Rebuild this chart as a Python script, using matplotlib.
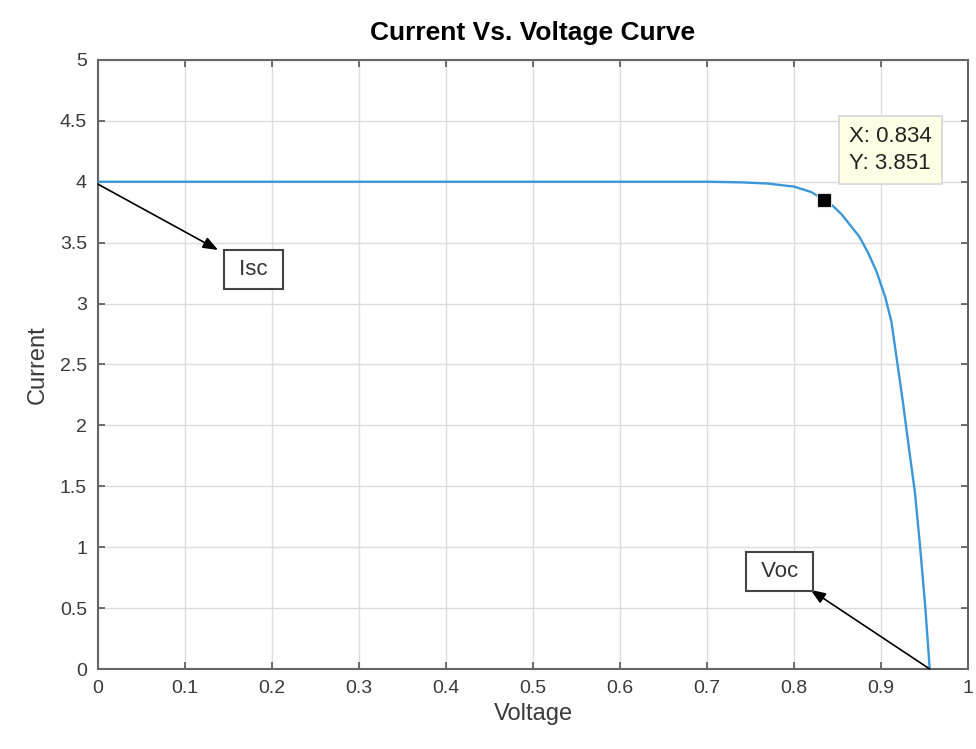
import matplotlib
matplotlib.use("Agg")
from matplotlib import pyplot as plt

plt.rcParams["font.family"] = ["Liberation Sans", "DejaVu Sans"]

# I-V curve
voltage = [0.0, 0.1, 0.2, 0.3, 0.4, 0.5, 0.6, 0.7, 0.74, 0.77, 0.80, 0.82, 0.834,
           0.845, 0.855, 0.865, 0.875, 0.885, 0.895, 0.905, 0.912, 0.918, 0.925,
           0.932, 0.939, 0.945, 0.951, 0.956]
current = [4.0, 4.0, 4.0, 4.0, 4.0, 4.0, 4.0, 4.0, 3.995, 3.985, 3.96, 3.915, 3.851,
           3.80, 3.73, 3.64, 3.55, 3.42, 3.26, 3.05, 2.85, 2.55, 2.20,
           1.82, 1.45, 1.0, 0.5, 0.0]
tip_x, tip_y = 0.834, 3.851
isc_point, isc_head, isc_text = (0.0, 3.98), (0.138, 3.44), (0.179, 3.28)
voc_point, voc_head, voc_text = (0.956, 0.0), (0.819, 0.65), (0.783, 0.80)

xticks = [i / 10 for i in range(11)]
yticks = [i / 2 for i in range(11)]
xlabels = ["0"] + [f"{t:g}" for t in xticks[1:-1]] + ["1"]
ylabels = [f"{t:g}" for t in yticks]

fig = plt.figure(figsize=(9.76, 7.49), dpi=100)
ax = fig.add_axes([0.1004, 0.1068, 0.8914, 0.8132])

ax.plot(voltage, current, color="#3c97d8", lw=1.7, zorder=3)
ax.plot(tip_x, tip_y, marker="s", ms=10, color="black", mec="#dddddd", mew=0.8, zorder=5)

ax.set_xlim(0, 1)
ax.set_ylim(0, 5)
ax.set_xticks(xticks)
ax.set_xticklabels(xlabels)
ax.set_yticks(yticks)
ax.set_yticklabels(ylabels)
ax.grid(True, color="#dcdcdc", lw=1)
ax.set_axisbelow(True)
ax.tick_params(direction="in", length=5, width=1.2, color="#555555",
               labelsize=14, labelcolor="#3a3a3a", top=True, right=True, pad=8)
for s in ax.spines.values():
    s.set_color("#666666")
    s.set_linewidth(1.5)

ax.set_xlabel("Voltage", fontsize=17, color="#3a3a3a", labelpad=4)
ax.set_ylabel("Current", fontsize=17, color="#3a3a3a", labelpad=8)
ax.set_title("Current Vs. Voltage Curve", fontsize=19, fontweight="bold", pad=14)

box = dict(boxstyle="square,pad=0.4", fc="white", ec="#444444", lw=1.5)
arrow = dict(arrowstyle="-|>,head_length=0.9,head_width=0.35", color="black", lw=1.2,
             shrinkA=0, shrinkB=0)
ax.annotate("", xy=isc_head, xytext=isc_point, arrowprops=arrow)
ax.text(*isc_text, " Isc ", fontsize=16, color="#333333", ha="center", va="center", bbox=box)
ax.annotate("", xy=voc_head, xytext=voc_point, arrowprops=arrow)
ax.text(*voc_text, " Voc ", fontsize=16, color="#333333", ha="center", va="center", bbox=box)

ax.text(0.863, 4.26, f"X: {tip_x:.3f}\nY: {tip_y:.3f}", fontsize=16, color="#222222",
        ha="left", va="center", linespacing=1.4,
        bbox=dict(boxstyle="square,pad=0.45", fc="#ffffe6", ec="#d6d6d6", lw=1.2),
        zorder=6)

fig.savefig("out.png", dpi=100)
